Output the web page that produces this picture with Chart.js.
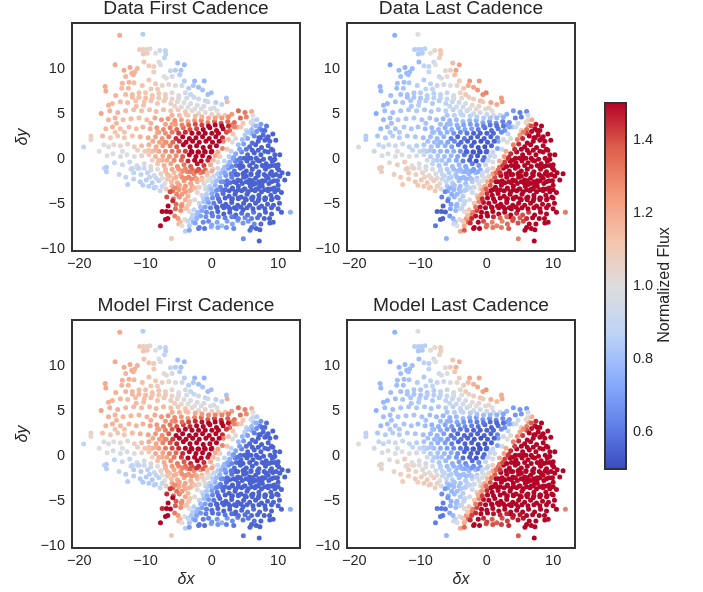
<!DOCTYPE html>
<html><head><meta charset="utf-8">
<script src="https://cdn.jsdelivr.net/npm/chart.js@4"></script>
<style>html,body{margin:0;padding:0;background:#fff;overflow:hidden;width:703px;height:592px}canvas{position:absolute}</style>
</head><body>
<script>
const dx=[
-13.9,-10.4,-10.9,-10.35,-9.85,-9.35,-7,-7.85,-8.5,-9.75,
-10.35,-6.95,-7.15,-10.25,-14.6,-5.15,-4.15,-8,-7.75,-9.5,
-8.75,-12.35,-13.25,-11.25,-11.65,-12.1,-11.85,-13,-8.75,-6.25,
-5.5,-4.65,-4.85,-6,-6.85,-2.6,-1.15,-4.15,-13.5,-12.5,
-11.75,-16.1,-16,-13.6,-12.6,-9.5,-10.5,-8.5,-7.5,-6.5,
-5.5,-4.5,-3.5,-2.8,-2,-1.4,-.6,-.1,-3.2,-4,
-14.5,-13,-12,-11,-10,-9,-8,-7,-6,-5,
2.2,2.3,-2,-1,.6,1.5,-15,-13.8,-12.7,-11.5,
-10.2,-9.2,-8.2,-7.2,-6.2,-5.2,-4.2,-3.2,-2.2,-1.2,
-.2,.8,-16.7,-15.4,-14.2,-13,-11.8,-10.6,-9.4,-8.4,
-7.3,-6.2,-5.1,-4,-3,-2,-1,0,1,2,
3,4,5,6,6.2,5.2,4.3,-15.6,-14.6,-13.4,
-12.2,-11,-9.8,-8.6,-7.6,-6.6,-5.6,-4.6,-3.6,-2.6,
-1.6,-.6,.4,1.4,2.4,3.4,3.9,-16,-15,-13.8,
-12.5,-11.4,-10.4,-9.3,-8.3,-7.3,-6.3,-5.3,-4.3,-3.3,
-2.3,-1.3,-.3,.7,1.7,2.7,3.2,4.4,5.2,4.7,
8.25,7.25,6.25,6,6.75,6,5,7.75,8.75,9.65,
-18.25,-18.25,-19.35,-16.5,-15.3,-14.2,-13.2,-12,-10.8,-9.6,
-8.5,-7.5,-6.5,-5.4,-4.4,-3.4,-2.4,-1.4,-.4,.6,
1.6,2.5,3.1,3.6,4,4.8,5.7,6.6,7.5,8.5,
-16.3,-15.6,-14.8,-13.8,-12.7,-11.7,-10.6,-9.5,-8.4,-7.4,
-6.3,-5.3,-4.3,-3.3,-2.3,-1.3,-.3,.7,1.6,2.3,
2.9,3.6,4.5,5.4,6.4,7.4,8.5,9.5,10.25,-17,
-15.8,-14.9,-13.8,-12.8,-11.7,-10.6,-9.5,-8.5,-7.4,-6.4,
-5.4,-4.4,-3.4,-2.4,-1.4,-.4,.5,1.2,.9,1.9,
2.7,3.5,4.4,5.3,6.2,7.2,8.2,9.1,9.5,-16.2,
-15.9,-15.9,-14.7,-13.5,-12.4,-11.3,-10.2,-9.2,-8.2,-7.2,
-6.2,-5.2,-4.2,-3.2,-2.2,-1.2,-.2,.2,.9,1.7,
2.5,3.4,4.3,5.2,6.1,7.1,8.1,9,9.9,10.25,
11.5,11,-14,-13,-11.8,-10.7,-9.7,-8.7,-7.7,-6.7,
-5.7,-4.7,-3.7,-2.7,-1.7,-.7,-.3,.3,1.2,2.1,
3,3.9,4.8,5.7,6.6,7.6,8.5,9.4,10,-12.7,
-11.8,-10.8,-9.9,-9,-8,-7.1,-6.1,-5.2,-4.2,-3.2,
-2.2,-1.2,-.9,-.3,.5,1.3,2.2,3.1,4,4.9,
5.8,6.7,7.6,8.5,9.4,10.5,-8.7,-7.8,-6.9,-5.9,
-5,-4,-3.1,-2.2,-1.5,-.8,0,.8,1.7,2.6,
3.5,4.4,5.3,6.2,7.1,8,8.9,9.8,-6.8,-5.8,
-4.9,-4,-3.3,-2.6,-1.9,-1.2,-.5,.3,1.2,2.1,
3,3.9,4.8,5.7,6.6,7.5,8.4,9.3,10.2,-6.6,
-7.5,-6.85,-6.25,-5.5,-4.7,-4,-3.4,-2.7,-2.1,-1.5,
-.8,0,.9,1.8,2.7,3.6,4.5,5.4,6.3,7.2,
8.1,9,10.5,11.85,-5.6,-5.1,-4.8,-4.1,-3.6,-3.1,
-7,-6.65,-7.75,-6.1,-5,-4.5,-4,-3.4,-2.8,-2,
-2.5,-1.3,-.5,-.1,.8,1.5,2.3,3.1,3.9,4.7,
5.5,6.4,7.4,8.75,9.25,7.25,5.75,4.75,7.15,3.5,
3.2,4.3,5.5,6.7,7.8,8.8,3.6,4.7,5.9,7,
1.7,2.7,3.7,4.6,5.6,6.6,7.6,8.6,.6,1.6,
2.6,3.6,4.5,5.5,6.5,7.5,8.5,9.5,3,4,
5.2,6.1,7,8,9,.8,1.8,2.7,3.7,4.7,
-9,-8,-7,-6,-5,-4,-3,-2,-1,0,
-7,-6,-5,-4,-3,-2,-1,0,-4.5,-3.5,
-2.5,-1.5,-6,-5,-4,-3,-2,-1,-4.5,-3.5,
-8,-7,-6,-5,-4,-3,-2,-1,0,1,
2.2,3,-12,-11,-10,-9,-8,-7,-6,-5,
6.2,6.8,7.4,5.9,6.7,7.6,5.5,6.4,7.1,8,
8.5,9.2,4.6,5.4,6.1,7,8,9,4.2,5.2,
6.1,7,8,9.2,2.6,3.3,3.9,4.9,5.9,6.9,
7.9,9,10,1.9,2.4,3,3.7,4.7,5.7,6.7,
7.6,8.6,9.5,.9,1.4,2,2.9,3.9,4.9,5.9,
6.9,7.9,8.8,9.7,10.6,.1,.7,1.4,2.3,3.3,
4.3,5.2,6.1,7.1,8,9,9.9,-.6,-.1,.9,
2,3.1,4,5,6,7,8,9,10,-1.3,
-.7,.1,1,2,3.1,4,5,6,7.1,8.1,
9.1,10,-1.7,-1,-.2,.7,1.6,2.5,3.4,4.4,
5.3,6.2,7.1,8,9,10,-2.4,-1.7,-.9,.1,
1,2,3,4,5,6,6.9,7.9,8.7,-2.9,
-1.9,-1.1,0,.9,2.2,3.3,6,6.7,-3.4,-2.3,
-5.4,-4.6,-3.8,-5.9,-5.3,-4.5,-3.6,-6.3,-5.6,-4.9,
-4.2,-3.4,-2.6,-1.9,-3.9,-3.1,-2.3,-1.5,-.7,-5.7,
-6.4,-5.4,-4.4,-3.3,-2.3,-1.3,-.7,-6.8,-5.7,-4.6,
-3.6,-2.6,-1.6,-.6,.2,.9,-3.1,-2.1,-1.1,-.1,
1.7,-4.9,-3.9,-2.9,-1.9,-.9,.1,1.1,-5.5,-4.5,
-3.5,-2.5,-1.5,-.5,.5,1.5,2.5,3.4,-7,-6,
-9.2,-8.2,-7.1,-8.9,-7.9,-6.9,-5.9,-9.5,-8.5,-7.5,
-3.6,-2.5,-1.5,-.5,.5,1.5,2.5,-6,-4.9,-3.9,
-5.6,-4.6,-3.6,-2.6,-1.6,-.6,.3,-5,-3.8,-2.7,
-11.2,-10.1,-9,-8,-7,-12.2,-11.2,-10.2,-9.4,-8.4,
-10.4,-9.5,-8.5,-7.5,-9.2,-8.2,-7.5,-6.7,-11,-12,
-15.6,-14.4,-13.2,-11.4,-10.3,-9.2,-8.2,-7.2,-14.6,-13.5,
7.3,8.3,9.3,10.1,4.2,5.2,6.2,7.2,8.2,9.2];
const dy=[
13.8,13.9,12.2,12.2,12.2,12.3,12.1,12.1,11.8,11.8,
11.7,11.7,11.3,10.8,10.5,10.7,10.5,10.8,10.5,10.4,
10.3,10.2,9.9,10.1,9.7,9.55,9.4,9.2,9.7,9.85,
9.9,9.9,9.4,9.2,9,8.7,8.7,8.7,8.45,8.55,
8.5,8.1,7.6,7.9,7.9,8.8,8.2,8.4,8.2,8.3,
8.2,8.2,7.9,8.2,8,7.7,7.2,7.4,7.2,7.4,
7.1,7.2,7.2,7.4,7.4,7.1,7.3,7.2,7.4,7.1,
6.8,6.4,6.7,6.5,6.3,6.1,6.2,6.4,6.3,6.5,
6.4,6.5,6.2,6.5,6.2,6.4,6.3,6.2,6,5.9,
5.6,5.4,5.1,5.4,5.2,5.4,5.5,5.4,5.5,5.3,
5.5,5.4,5.5,5.3,5.4,5.1,5.2,5,4.9,4.9,
5,5.4,5.2,5.3,4.9,4.7,4.6,4.4,4.6,4.4,
4.5,4.6,4.4,4.6,4.4,4.5,4.3,4.4,4.2,4.3,
4.3,4.1,4.2,4,4.2,4.1,3.6,3.4,3.6,3.4,
3.6,3.4,3.6,3.4,3.5,3.3,3.5,3.3,3.5,3.3,
3.4,3.3,3.5,3.2,3.4,3.2,2.8,3.6,3.2,4,
3.7,3.4,3.8,3.3,3.1,2.9,2.7,2.7,2,2.1,
2.6,2.2,1.37,2.6,2.4,2.6,2.4,2.6,2.5,2.4,
2.5,2.3,2.5,2.3,2.5,2.3,2.4,2.5,2.3,2.5,
2.4,2.2,1.9,2.3,1.6,1.7,1.4,1.6,1.3,1.5,
1.6,1.4,1.6,1.5,1.7,1.4,1.5,1.6,1.4,1.5,
1.5,1.4,1.6,1.4,1.5,1.3,1.4,1.5,1.2,1.1,
.9,.6,.8,.5,.7,.5,.8,.5,.5,.9,
.4,.6,.3,.5,.3,.4,.5,.3,.4,.3,
.4,.3,.5,.3,.4,.2,.4,.3,-.3,-.2,
-.3,-.2,-.4,-.2,-.4,-.2,-.5,-.2,0,-1,
-.9,-1.4,-.4,-.6,-.3,-.7,-.5,-.8,-.5,-.7,
-.5,-.8,-.6,-.8,-.5,-.7,-.6,-1.1,-1,-1.2,
-1,-1.3,-1,-1.3,-1.1,-1.4,-1.1,-1.4,-1,-1.9,
-1.6,-2.3,-1.7,-2,-1.5,-1.7,-1.5,-1.8,-1.6,-1.7,
-1.5,-1.7,-1.4,-1.6,-1.5,-1.8,-2.1,-1.9,-2,-1.8,
-2,-2.3,-2,-2.3,-2.1,-2.4,-2.1,-2.4,-2.9,-2.8,
-2.2,-2.5,-2.3,-2.6,-2.4,-2.7,-2.5,-2.6,-2.4,-2.7,
-2.5,-2.7,-3.1,-3,-2.9,-3.1,-2.9,-3.2,-3,-3.3,
-3,-3.3,-3,-3.3,-3.2,-3.7,-3.2,-3.5,-3.3,-3.5,
-3.4,-3.6,-3.4,-3.7,-4,-3.9,-3.8,-4,-3.8,-4.1,
-3.9,-4.2,-3.9,-4.2,-4,-4.3,-4,-4.2,-4.2,-4.4,
-4.2,-4.5,-4.7,-4.5,-4.9,-4.7,-4.8,-4.9,-4.7,-5,
-4.8,-5.1,-4.9,-5.1,-4.9,-5.2,-5,-5.1,-4.9,-5.2,
-5.8,-5.8,-5.85,-5.5,-5.7,-5.5,-5.8,-5.6,-5.9,-5.7,
-5.9,-6,-5.8,-6.1,-5.9,-6.2,-6,-6.2,-5.9,-6.2,
-5.9,-6.1,-5.9,-5.9,-6.3,-6.6,-7,-6.7,-6.9,-6.6,
-6.7,-6.6,-7.4,-8.8,-7.2,-7.4,-8,-7.4,-7,-7.7,
-7.1,-7,-6.9,-7.5,-7,-7.4,-6.9,-7.2,-6.8,-7.1,
-6.9,-7.2,-7.2,-7.1,-7,-7.85,-7.9,-8.85,-9.1,-6.4,
.1,.1,.1,.1,0,.1,-1.7,-1.6,-1.7,-1.8,
-2.5,-2.6,-2.6,-2.7,-2.6,-2.7,-2.6,-2.7,-3.5,-3.5,
-3.5,-3.6,-3.5,-3.6,-3.5,-3.6,-3.5,-3.6,-4.5,-4.4,
-4.5,-4.5,-4.6,-4.5,-4.5,-5.4,-5.4,-5.5,-5.5,-5.6,
.9,.9,.9,.9,.9,.9,.8,.8,.8,.9,
-1.1,-1.1,-1.1,-1.1,-1.1,-1.1,-1.2,-1.3,-2,-2,
-2.1,-2.1,-3,-3,-3,-3,-3.1,-3.3,-5,-5,
3,2.9,3,2.9,3,2.9,2.9,2.9,2.9,2.9,
3,3.8,6.9,6.9,6.8,6.8,6.8,6.8,6.7,6.7,
4.3,4.4,3.9,4.1,3.7,3.2,3,2.6,2.4,3.2,
2.5,2.8,2.2,2.3,1.8,2,2.1,1.1,1.1,1.1,
1,1,.9,1,.3,.2,-.1,.1,.1,-.1,
-.8,-.7,-.6,-.9,-.7,-.8,-.7,-.8,-.7,-.8,
-.7,-.8,-.7,-1.6,-1.5,-1.5,-1.6,-1.7,-1.5,-1.6,
-1.6,-1.7,-1.6,-1.7,-1.5,-2.5,-2.4,-2.5,-2.4,-2.5,
-2.4,-2.5,-2.4,-2.5,-2.4,-2.5,-2.4,-3.4,-3.3,-3.4,
-3.4,-3.3,-3.4,-3.3,-3.4,-3.3,-3.4,-3.3,-3.4,-4.3,
-4.4,-4.3,-4.4,-4.3,-4.4,-4.3,-4.4,-4.3,-4.4,-4.3,
-4.4,-4.3,-5.3,-5.3,-5.4,-5.3,-5.2,-5.3,-5.4,-5.3,
-5.4,-5.5,-5.4,-5.5,-5.4,-5.5,-6.2,-6.3,-6.4,-6.3,
-6.4,-6.5,-6.4,-6.6,-6.5,-6.6,-6.5,-6.6,-6.6,-6.2,
-7.6,-7.7,-7.3,-7.6,-7.6,-7.7,-7.6,-7.7,-7.9,-6.6,
-5,-5.2,-5.4,-4.6,-3.9,-3.9,-4.1,-3.6,-3.2,-2.9,
-3.3,-3.5,-3.2,-3.1,-2.1,-2.2,-2.2,-2.3,-2.4,-2.1,
-1.9,-2,-1.3,-1.4,-1.3,-1.4,-1.5,-.1,-.1,-.1,
-.2,-.1,-.2,-.1,-.1,.8,.9,.8,.9,.8,
2,2,1.9,2,1.9,2,1.9,2,3.9,3.8,
3.8,3.9,3.8,3.7,3.8,3.7,3.7,3.6,3.9,3.9,
4,3,1.9,2,1.9,1.9,1.9,1,1,-.1,
4.9,4.8,4.7,4.6,4.6,4.6,4.7,4.9,4.9,5,
5.9,5.8,5.8,5.6,5.6,6.4,5.7,6.9,6.8,6.9,
1,.9,-.1,-.1,-1.3,-1.1,-1,-1,-2,-2.1,
-2.9,-3,-3.1,-3,-1.2,-1.1,-2.1,-2.2,-1,-1,
6,4,3,5.9,6,7.8,7.8,9.2,3,.9,
2.4,2.3,-.1,-1.2,-.7,-1.9,-2.8,-3,-1.9,-1.8];
const fluxDataFirst=[
1.2,.85,1.1,1.08,1.05,1.03,.88,.93,1,1.08,
1.1,.87,.88,1.12,1.2,.8,.78,1,.97,1.1,
1.08,1.2,1.2,1.17,1.17,1.17,1.18,1.17,1.08,.9,
.85,.82,.85,.95,1,.78,.77,.85,1.17,1.17,
1.15,1.2,1.2,1.15,1.15,1.12,1.13,1.1,1.05,1.03,
.97,.93,.85,.82,.8,.82,.8,.8,.88,.95,
1.17,1.15,1.15,1.14,1.12,1.12,1.1,1.07,1.02,1,
.83,1.15,.93,.9,.85,.88,1.15,1.15,1.15,1.13,
1.12,1.12,1.12,1.1,1.07,1.03,1,.97,.98,.97,
.98,1,1.22,1.17,1.17,1.15,1.14,1.14,1.14,1.15,
1.14,1.12,1.1,1.08,1.03,1.03,1.03,1.05,1.1,1.12,
1.25,1.35,1.32,1.2,1,1.3,1.35,1.17,1.17,1.15,
1.15,1.14,1.15,1.2,1.25,1.25,1.27,1.22,1.22,1.25,
1.3,1.3,1.35,1.4,1.35,1.35,1.2,1.17,1.17,1.14,
1.14,1.14,1.17,1.2,1.25,1.28,1.3,1.35,1.35,1.4,
1.42,1.5,1.5,1.5,1.5,1.35,1.12,1.1,.9,1.12,
.6,.65,.85,.8,.67,.75,.85,.57,.55,.55,
1.07,1.05,.88,1.15,1.1,1.12,1.12,1.13,1.17,1.2,
1.22,1.25,1.32,1.45,1.5,1.5,1.5,1.5,1.5,1.5,
1.45,1.15,1,.98,.8,.7,.58,.55,.55,.55,
1,1,1.02,1.03,1.05,1.08,1.15,1.18,1.2,1.25,
1.3,1.38,1.5,1.5,1.5,1.5,1.5,1.5,1.3,1.12,
.88,.73,.65,.57,.55,.55,.55,.55,.55,1,
1,.98,.97,1,1,1.05,1.1,1.17,1.2,1.25,
1.27,1.38,1.5,1.5,1.5,1.5,1.2,1.08,1.02,.88,
.76,.65,.58,.55,.55,.55,.55,.55,.55,.9,
.85,.85,.9,.93,.92,.97,.97,1.05,1.12,1.18,
1.22,1.27,1.32,1.38,1.48,1.42,1.2,1.06,.92,.8,
.68,.6,.56,.55,.55,.55,.55,.55,.55,.55,
.55,.55,.9,.88,.87,.87,.88,.95,1.05,1.15,
1.15,1.22,1.27,1.3,1.3,1.12,1,.92,.78,.68,
.62,.57,.55,.55,.55,.55,.55,.55,.55,.86,
.87,.85,.85,.85,.87,.98,1.15,1.2,1.25,1.22,
1.18,1.05,.95,.87,.77,.63,.58,.55,.55,.55,
.55,.55,.55,.55,.55,.55,.85,.9,1.1,1.35,
1.25,1.25,1.2,1.05,.95,.85,.73,.62,.57,.55,
.55,.55,.55,.55,.55,.55,.55,.55,1.4,1.32,
1.27,1.18,1.1,1.02,.9,.82,.7,.62,.57,.56,
.55,.55,.55,.55,.55,.55,.55,.55,.55,1.5,
1.5,1.5,1.5,1.35,1.27,1.12,1,.88,.8,.72,
.66,.6,.56,.55,.55,.55,.58,.6,.6,.58,
.55,.55,.55,.75,1.3,1.25,1.18,1.02,.9,.85,
1.5,1.5,1.5,1.12,1.15,1,.85,.85,.78,.6,
.72,.65,.65,.75,.72,.8,.72,.72,.72,.68,
.68,.65,.57,.55,.55,.55,.58,.65,.55,.58,
.72,.6,.56,.55,.55,.55,.56,.55,.55,.55,
.65,.58,.55,.55,.55,.55,.55,.55,.7,.6,
.55,.55,.55,.55,.55,.55,.55,.55,.55,.55,
.55,.55,.55,.55,.55,.56,.55,.55,.55,.55,
1.15,1.22,1.27,1.32,1.35,1.42,1.5,1.5,1.5,1.48,
1.15,1.2,1.25,1.3,1.35,1.4,1.35,1.2,1.27,1.3,
1.28,1.2,1.2,1.27,1.25,1.2,1.08,.97,1.25,1.12,
1.22,1.27,1.32,1.42,1.45,1.5,1.5,1.5,1.5,1.5,
1.4,1.32,1.15,1.14,1.14,1.12,1.1,1.1,1.05,1,
.93,.86,.7,.95,.77,.6,.83,.64,.57,.58,
.55,.55,.8,.72,.58,.55,.55,.55,.72,.6,
.55,.55,.55,.55,.85,.72,.62,.56,.55,.55,
.55,.55,.55,.8,.75,.65,.6,.55,.55,.55,
.55,.55,.55,.86,.8,.72,.62,.57,.55,.55,
.55,.55,.55,.55,.55,.88,.8,.68,.6,.56,
.55,.55,.55,.55,.55,.55,.55,.87,.8,.66,
.58,.55,.55,.55,.55,.55,.55,.55,.55,.86,
.76,.66,.58,.55,.55,.55,.55,.55,.55,.55,
.55,.55,.8,.72,.62,.56,.55,.55,.55,.55,
.55,.55,.55,.55,.55,.55,.8,.72,.66,.62,
.62,.62,.62,.63,.65,.62,.58,.55,.55,.88,
.62,.6,.72,.72,.68,.65,.58,.55,.72,.76,
1.35,1.27,1.12,1.45,1.3,1.25,1.18,1.4,1.28,1.22,
1.23,1.2,1.15,1.05,1.28,1.28,1.22,1.1,1,1.15,
1.15,1.18,1.27,1.32,1.38,1.35,1.15,1.2,1.28,1.35,
1.45,1.5,1.5,1.45,1.15,1.2,1.5,1.5,1.5,1.5,
1.3,1.45,1.5,1.5,1.5,1.5,1.5,1.5,1.25,1.3,
1.35,1.4,1.42,1.5,1.5,1.5,1.45,1.3,1.22,1.22,
1.18,1.22,1.25,1.2,1.22,1.27,1.35,1.12,1.17,1.18,
1.12,1.15,1.18,1.2,1.22,1.25,1.28,1.18,1.15,1.12,
1.05,1.02,1,1,.98,.93,.97,.98,.95,.92,
1.07,1.1,1.05,1.15,1.15,.92,.92,.93,.88,.9,
.86,.86,.87,.92,.93,1,1,1.12,.9,.9,
1.17,1.16,1.12,1.14,1.13,1.1,1.08,1,1.12,1,
.55,.55,.55,.55,.55,.55,.55,.55,.55,.55];
const fluxDataLast=[
.75,1,.85,.86,.85,.87,1.12,1.05,1,.85,
.84,1.1,1.08,.78,.72,1.15,1.22,.95,1,.88,
.88,.76,.78,.78,.78,.78,.8,.8,.9,1.03,
1.08,1.22,1.15,1.02,.98,1.25,1.25,1.1,.8,.8,
.83,.77,.77,.8,.82,.85,.85,.87,.9,.93,
1,1.05,1.12,1.2,1.22,1.25,1.28,1.3,1.12,1.05,
.8,.8,.82,.83,.85,.85,.86,.88,.92,.97,
1.25,1.25,1.1,1.15,1.22,1.2,.78,.8,.82,.83,
.85,.85,.84,.85,.87,.9,.93,.98,1.03,1.05,
1.03,1,.73,.8,.8,.82,.83,.84,.83,.83,
.84,.86,.87,.9,.93,.95,.95,.92,.93,.92,
.75,.68,.62,.65,.9,.62,.62,.78,.8,.83,
.83,.84,.82,.82,.8,.78,.78,.8,.8,.78,
.75,.73,.68,.65,.62,.65,.82,.78,.8,.82,
.83,.83,.82,.8,.78,.78,.75,.75,.72,.72,
.7,.62,.58,.58,.6,.68,.88,.93,1.12,.93,
1.5,1.5,1.25,1.35,1.5,1.42,1.25,1.5,1.5,1.5,
.85,.85,1.02,.82,.83,.85,.85,.83,.83,.8,
.8,.78,.76,.62,.56,.6,.55,.55,.55,.55,
.63,.93,1,1.02,1.3,1.45,1.5,1.5,1.5,1.5,
.9,.9,.92,.93,.92,.88,.85,.83,.82,.78,
.76,.7,.6,.58,.55,.52,.52,.55,.72,.93,
1.2,1.45,1.5,1.5,1.5,1.5,1.5,1.5,1.5,.93,
.98,.97,1,1,1,.97,.92,.85,.83,.8,
.78,.72,.6,.56,.53,.58,.9,.95,.98,1.2,
1.42,1.5,1.5,1.5,1.5,1.5,1.5,1.5,1.5,1.1,
1.08,1.08,1.03,1.08,1.1,1,.98,.93,.88,.83,
.82,.8,.78,.72,.62,.68,.9,.96,1.08,1.35,
1.5,1.5,1.5,1.5,1.5,1.5,1.5,1.5,1.5,1.5,
1.5,1.5,1.08,1.1,1.1,1.08,1.05,1.03,.97,.9,
.85,.83,.8,.77,.78,.92,1,1.1,1.4,1.5,
1.5,1.5,1.5,1.5,1.5,1.5,1.5,1.5,1.5,1.1,
1.1,1.12,1.12,1.12,1.1,1.03,.9,.85,.8,.8,
.85,.97,1.05,1.2,1.4,1.5,1.5,1.5,1.5,1.5,
1.5,1.5,1.5,1.5,1.5,1.5,1.12,1.1,.95,.72,
.78,.82,.85,.95,1.08,1.25,1.45,1.5,1.5,1.5,
1.5,1.5,1.5,1.5,1.5,1.5,1.5,1.5,.62,.72,
.78,.85,.9,.97,1.12,1.3,1.48,1.5,1.5,1.5,
1.5,1.5,1.5,1.5,1.5,1.5,1.5,1.5,1.5,.55,
.55,.55,.55,.72,.78,.88,1.02,1.12,1.3,1.42,
1.5,1.5,1.5,1.5,1.5,1.5,1.45,1.4,1.42,1.5,
1.5,1.5,1.5,1.32,.68,.75,.82,.98,1.1,1.25,
.55,.55,.6,.75,.92,1,1.22,1.2,1.35,1.5,
1.45,1.5,1.4,1.35,1.3,1.3,1.3,1.35,1.4,1.4,
1.4,1.5,1.5,1.5,1.5,1.5,1.5,1.3,1.5,1.5,
1.45,1.5,1.5,1.5,1.5,1.5,1.5,1.5,1.5,1.5,
1.5,1.5,1.5,1.5,1.5,1.5,1.5,1.5,1.5,1.5,
1.5,1.5,1.5,1.5,1.5,1.5,1.5,1.5,1.5,1.5,
1.5,1.5,1.5,1.5,1.5,1.5,1.5,1.5,1.5,1.5,
.85,.8,.78,.75,.75,.68,.6,.55,.53,.58,
.87,.84,.8,.78,.75,.7,.72,.88,.8,.78,
.78,.82,.83,.78,.8,.85,.93,1.02,.78,.88,
.8,.77,.75,.68,.65,.6,.55,.55,.55,.57,
.65,.7,.8,.82,.82,.85,.86,.88,.9,.95,
1.08,1.2,1.48,1.05,1.4,1.5,1.3,1.5,1.5,1.5,
1.5,1.5,1.3,1.45,1.5,1.5,1.5,1.5,1.45,1.5,
1.5,1.5,1.5,1.5,1.25,1.45,1.5,1.5,1.5,1.5,
1.5,1.5,1.5,1.35,1.42,1.5,1.5,1.5,1.5,1.5,
1.5,1.5,1.5,1.22,1.35,1.45,1.5,1.5,1.5,1.5,
1.5,1.5,1.5,1.5,1.5,1.2,1.35,1.5,1.5,1.5,
1.5,1.5,1.5,1.5,1.5,1.5,1.5,1.22,1.38,1.5,
1.5,1.5,1.5,1.5,1.5,1.5,1.5,1.5,1.5,1.22,
1.45,1.5,1.5,1.5,1.5,1.5,1.5,1.5,1.5,1.5,
1.5,1.5,1.32,1.48,1.5,1.5,1.5,1.5,1.5,1.5,
1.5,1.5,1.5,1.5,1.5,1.5,1.32,1.48,1.5,1.5,
1.45,1.35,1.35,1.4,1.38,1.45,1.5,1.5,1.5,1.15,
1.5,1.5,1.35,1.32,1.32,1.38,1.5,1.5,1.38,1.45,
.72,.78,.9,.62,.74,.78,.85,.65,.76,.82,
.8,.84,.87,.95,.78,.78,.82,.92,1,.85,
.88,.85,.8,.76,.72,.74,.92,.83,.78,.73,
.62,.55,.52,.6,.93,.88,.55,.53,.52,.55,
.73,.65,.58,.55,.53,.52,.54,.55,.78,.75,
.72,.7,.68,.62,.6,.58,.6,.72,.8,.78,
.82,.8,.78,.81,.8,.77,.72,.88,.84,.84,
.88,.87,.85,.84,.82,.8,.76,.83,.86,.88,
.9,.93,.95,.98,1.02,1.1,1.05,.97,1.02,1.08,
.9,.9,.97,.87,.88,1.05,1.03,1,1.05,1.05,
1.1,1.12,1.12,1.08,1,.98,1.05,.92,1.05,1.08,
.78,.8,.84,.83,.85,.87,.88,.95,.84,.97,
1.5,1.5,1.5,1.5,1.5,1.5,1.5,1.5,1.5,1.5];
const fluxModelFirst=[
1.2,.85,1.1,1.08,1.05,1.05,.87,.92,1,1.1,
1.12,.86,.87,1.13,1.2,.8,.78,1,.98,1.12,
1.1,1.2,1.2,1.18,1.18,1.18,1.18,1.17,1.1,.9,
.85,.82,.85,.95,1.02,.77,.76,.85,1.18,1.18,
1.17,1.2,1.2,1.17,1.17,1.13,1.14,1.1,1.07,1.05,
.98,.94,.86,.82,.8,.82,.8,.8,.9,.95,
1.18,1.17,1.16,1.15,1.14,1.13,1.12,1.08,1.03,1,
.82,1.2,.95,.9,.86,.88,1.17,1.16,1.15,1.14,
1.14,1.14,1.13,1.12,1.08,1.05,1.02,.98,.97,.97,
.98,1,1.22,1.18,1.18,1.16,1.15,1.15,1.15,1.16,
1.16,1.14,1.12,1.1,1.05,1.04,1.05,1.07,1.12,1.15,
1.25,1.33,1.3,1.18,1,1.28,1.33,1.18,1.18,1.16,
1.16,1.16,1.17,1.2,1.25,1.27,1.28,1.25,1.25,1.3,
1.35,1.38,1.42,1.45,1.38,1.33,1.18,1.17,1.18,1.16,
1.16,1.16,1.18,1.22,1.25,1.3,1.33,1.4,1.42,1.45,
1.5,1.5,1.5,1.5,1.5,1.35,1.12,1.1,.9,1.12,
.58,.63,.85,.78,.65,.72,.85,.56,.55,.55,
1.05,1.03,.88,1.13,1.1,1.12,1.12,1.15,1.18,1.22,
1.25,1.28,1.38,1.5,1.5,1.5,1.5,1.5,1.5,1.5,
1.45,1.15,1,.98,.78,.68,.57,.55,.55,.55,
1,1,1,1.02,1.03,1.08,1.15,1.2,1.22,1.3,
1.38,1.45,1.5,1.5,1.5,1.5,1.5,1.5,1.3,1.12,
.87,.72,.63,.56,.55,.55,.55,.55,.55,1,
1,.97,.97,.98,1,1.05,1.12,1.2,1.22,1.3,
1.35,1.45,1.5,1.5,1.5,1.5,1.2,1.08,1.02,.87,
.75,.63,.57,.55,.55,.55,.55,.55,.55,.87,
.85,.85,.88,.92,.9,.97,.97,1.05,1.13,1.2,
1.28,1.32,1.38,1.45,1.5,1.45,1.2,1.06,.92,.78,
.67,.58,.55,.55,.55,.55,.55,.55,.55,.55,
.55,.55,.88,.86,.85,.85,.86,.93,1.05,1.17,
1.2,1.25,1.27,1.27,1.25,1.1,1,.9,.76,.66,
.6,.56,.55,.55,.55,.55,.55,.55,.55,.85,
.85,.84,.84,.84,.86,1,1.15,1.2,1.22,1.18,
1.15,1.03,.95,.86,.76,.62,.57,.55,.55,.55,
.55,.55,.55,.55,.55,.55,.85,.9,1.12,1.38,
1.22,1.2,1.15,1.03,.93,.83,.7,.6,.56,.55,
.55,.55,.55,.55,.55,.55,.55,.55,1.45,1.35,
1.3,1.2,1.1,1.02,.88,.8,.68,.6,.56,.55,
.55,.55,.55,.55,.55,.55,.55,.55,.55,1.5,
1.45,1.5,1.5,1.38,1.27,1.1,1,.86,.78,.7,
.62,.58,.55,.55,.55,.55,.56,.58,.58,.56,
.55,.55,.55,.75,1.32,1.25,1.18,1,.88,.83,
1.5,1.5,1.5,1.12,1.15,1,.85,.82,.76,.6,
.7,.62,.62,.72,.68,.75,.68,.66,.64,.6,
.6,.58,.56,.55,.55,.55,.56,.6,.55,.56,
.7,.58,.55,.55,.55,.55,.55,.55,.55,.55,
.63,.56,.55,.55,.55,.55,.55,.55,.68,.58,
.55,.55,.55,.55,.55,.55,.55,.55,.55,.55,
.55,.55,.55,.55,.55,.55,.55,.55,.55,.55,
1.17,1.25,1.32,1.4,1.45,1.5,1.5,1.5,1.5,1.48,
1.2,1.25,1.3,1.35,1.4,1.45,1.38,1.2,1.27,1.27,
1.25,1.18,1.22,1.27,1.22,1.17,1.06,.96,1.27,1.12,
1.25,1.3,1.38,1.48,1.5,1.5,1.5,1.5,1.5,1.5,
1.42,1.33,1.16,1.16,1.15,1.13,1.12,1.1,1.05,1,
.92,.85,.68,.95,.75,.58,.82,.62,.56,.57,
.55,.55,.78,.7,.57,.55,.55,.55,.7,.58,
.55,.55,.55,.55,.83,.7,.6,.55,.55,.55,
.55,.55,.55,.78,.72,.63,.58,.55,.55,.55,
.55,.55,.55,.85,.78,.7,.6,.56,.55,.55,
.55,.55,.55,.55,.55,.86,.78,.66,.58,.55,
.55,.55,.55,.55,.55,.55,.55,.85,.78,.64,
.57,.55,.55,.55,.55,.55,.55,.55,.55,.85,
.74,.64,.57,.55,.55,.55,.55,.55,.55,.55,
.55,.55,.78,.7,.6,.55,.55,.55,.55,.55,
.55,.55,.55,.55,.55,.55,.78,.68,.62,.58,
.6,.6,.58,.58,.58,.57,.56,.55,.55,.85,
.6,.58,.68,.68,.62,.6,.56,.55,.7,.72,
1.38,1.27,1.12,1.5,1.33,1.25,1.16,1.42,1.28,1.22,
1.2,1.18,1.13,1.04,1.26,1.25,1.2,1.1,1,1.18,
1.15,1.18,1.3,1.38,1.45,1.38,1.15,1.22,1.32,1.42,
1.5,1.5,1.5,1.48,1.15,1.22,1.5,1.5,1.5,1.5,
1.3,1.5,1.5,1.5,1.5,1.5,1.5,1.5,1.3,1.35,
1.42,1.45,1.48,1.5,1.5,1.5,1.48,1.3,1.25,1.27,
1.18,1.23,1.28,1.2,1.25,1.3,1.42,1.13,1.18,1.2,
1.15,1.2,1.25,1.28,1.3,1.3,1.32,1.2,1.17,1.15,
1.07,1.03,1,1,.98,.93,.97,.98,.95,.92,
1.07,1.12,1.05,1.17,1.17,.9,.9,.92,.86,.88,
.84,.84,.85,.9,.92,1,1,1.13,.88,.88,
1.18,1.17,1.13,1.15,1.14,1.12,1.1,1.02,1.13,1,
.55,.55,.55,.55,.55,.55,.55,.55,.55,.55];
const fluxModelLast=[
.76,1,.86,.86,.85,.86,1.1,1.03,1,.84,
.83,1.08,1.05,.8,.75,1.12,1.18,.95,1,.87,
.86,.78,.78,.8,.8,.8,.8,.8,.88,1.02,
1.07,1.18,1.12,1,.97,1.2,1.2,1.08,.8,.8,
.82,.78,.78,.8,.8,.84,.84,.87,.9,.93,
.98,1.03,1.08,1.15,1.18,1.2,1.22,1.25,1.1,1.03,
.8,.8,.82,.82,.83,.84,.85,.88,.92,.96,
1.2,1.2,1.08,1.12,1.18,1.15,.78,.8,.82,.83,
.84,.84,.84,.85,.87,.9,.93,.97,1.02,1.04,
1.03,1,.75,.8,.8,.82,.82,.83,.83,.82,
.83,.85,.86,.88,.92,.95,.95,.92,.92,.9,
.78,.7,.68,.68,.92,.68,.68,.8,.8,.82,
.82,.82,.82,.8,.78,.77,.76,.78,.78,.74,
.7,.68,.65,.63,.65,.68,.85,.78,.8,.82,
.82,.82,.8,.79,.76,.75,.72,.68,.66,.65,
.62,.58,.56,.55,.58,.68,.88,.93,1.1,.93,
1.5,1.48,1.22,1.32,1.48,1.4,1.22,1.5,1.5,1.5,
.87,.87,1,.83,.84,.85,.85,.83,.82,.8,
.78,.76,.7,.6,.56,.56,.55,.55,.55,.55,
.63,.93,1,1.02,1.3,1.45,1.5,1.5,1.5,1.5,
.9,.9,.92,.93,.92,.88,.85,.82,.8,.76,
.7,.62,.56,.55,.55,.52,.52,.55,.72,.93,
1.2,1.45,1.5,1.5,1.5,1.5,1.5,1.5,1.5,.93,
.97,.97,1,1,1,.97,.9,.84,.82,.78,
.74,.66,.56,.55,.53,.58,.9,.95,.98,1.2,
1.42,1.5,1.5,1.5,1.5,1.5,1.5,1.5,1.5,1.05,
1.05,1.05,1.02,1.05,1.08,1,.98,.93,.87,.83,
.78,.75,.7,.64,.58,.64,.9,.96,1.08,1.35,
1.5,1.5,1.5,1.5,1.5,1.5,1.5,1.5,1.5,1.5,
1.5,1.5,1.05,1.07,1.08,1.07,1.03,1,.96,.88,
.83,.8,.78,.78,.8,.93,1,1.1,1.38,1.5,
1.5,1.5,1.5,1.5,1.5,1.5,1.5,1.5,1.5,1.07,
1.08,1.1,1.1,1.1,1.08,1,.9,.85,.82,.84,
.87,.97,1.05,1.2,1.4,1.5,1.5,1.5,1.5,1.5,
1.5,1.5,1.5,1.5,1.5,1.5,1.1,1.08,.95,.75,
.8,.84,.87,.95,1.08,1.25,1.45,1.5,1.5,1.5,
1.5,1.5,1.5,1.5,1.5,1.5,1.5,1.5,.65,.75,
.78,.84,.9,.97,1.12,1.3,1.48,1.5,1.5,1.5,
1.5,1.5,1.5,1.5,1.5,1.5,1.5,1.5,1.5,.62,
.6,.6,.6,.75,.8,.88,1.02,1.12,1.3,1.42,
1.5,1.5,1.5,1.5,1.5,1.5,1.5,1.5,1.5,1.5,
1.5,1.5,1.5,1.3,.72,.78,.85,.98,1.1,1.25,
.6,.6,.62,.77,.92,1,1.2,1.2,1.35,1.5,
1.45,1.5,1.45,1.4,1.38,1.38,1.4,1.42,1.45,1.48,
1.48,1.5,1.5,1.5,1.5,1.5,1.5,1.38,1.5,1.5,
1.45,1.5,1.5,1.5,1.5,1.5,1.5,1.5,1.5,1.5,
1.5,1.5,1.5,1.5,1.5,1.5,1.5,1.5,1.5,1.5,
1.5,1.5,1.5,1.5,1.5,1.5,1.5,1.5,1.5,1.5,
1.5,1.5,1.5,1.5,1.5,1.5,1.5,1.5,1.5,1.5,
.84,.8,.75,.7,.66,.6,.58,.55,.53,.58,
.84,.8,.77,.74,.7,.66,.7,.88,.8,.8,
.8,.83,.82,.8,.82,.86,.93,1.02,.78,.88,
.78,.75,.7,.62,.6,.58,.55,.55,.55,.56,
.65,.7,.82,.82,.82,.85,.85,.87,.9,.95,
1.05,1.18,1.45,1.03,1.38,1.5,1.28,1.5,1.5,1.5,
1.5,1.5,1.28,1.42,1.5,1.5,1.5,1.5,1.42,1.5,
1.5,1.5,1.5,1.5,1.23,1.43,1.5,1.5,1.5,1.5,
1.5,1.5,1.5,1.33,1.4,1.5,1.5,1.5,1.5,1.5,
1.5,1.5,1.5,1.2,1.33,1.43,1.5,1.5,1.5,1.5,
1.5,1.5,1.5,1.5,1.5,1.18,1.33,1.5,1.5,1.5,
1.5,1.5,1.5,1.5,1.5,1.5,1.5,1.2,1.36,1.5,
1.5,1.5,1.5,1.5,1.5,1.5,1.5,1.5,1.5,1.2,
1.42,1.5,1.5,1.5,1.5,1.5,1.5,1.5,1.5,1.5,
1.5,1.5,1.3,1.45,1.5,1.5,1.5,1.5,1.5,1.5,
1.5,1.5,1.5,1.5,1.5,1.5,1.3,1.45,1.5,1.5,
1.48,1.45,1.45,1.48,1.48,1.5,1.5,1.5,1.5,1.12,
1.5,1.5,1.42,1.4,1.42,1.45,1.5,1.5,1.36,1.42,
.76,.8,.9,.68,.77,.8,.85,.7,.78,.82,
.82,.85,.88,.95,.8,.8,.83,.92,1,.85,
.88,.85,.78,.74,.68,.7,.92,.82,.75,.68,
.58,.55,.52,.58,.93,.88,.55,.53,.52,.55,
.73,.62,.58,.55,.53,.52,.54,.55,.75,.72,
.68,.65,.62,.6,.58,.56,.58,.72,.78,.76,
.82,.8,.77,.81,.78,.75,.68,.88,.84,.83,
.87,.85,.82,.8,.78,.76,.72,.82,.85,.87,
.9,.92,.95,.98,1,1.08,1.03,.97,1,1.05,
.9,.9,.97,.86,.87,1.03,1.02,1,1.03,1.03,
1.08,1.1,1.1,1.06,1,.97,1.03,.9,1.03,1.05,
.78,.8,.84,.83,.84,.86,.88,.95,.84,.97,
1.5,1.5,1.5,1.5,1.5,1.5,1.5,1.5,1.5,1.5];

const xTicks=[-20,-10,0,10];
const yTicks=[-10,-5,0,5,10];
const barTicks=[0.6,0.8,1.0,1.2,1.4];
const panelTitles=['Data First Cadence','Data Last Cadence','Model First Cadence','Model Last Cadence'];
const barLabel='Normalized Flux';

[fluxDataFirst,fluxDataLast,fluxModelFirst,fluxModelLast,dy].forEach((a,i)=>{if(a.length!==dx.length)console.error('length mismatch',i,a.length,dx.length);});

const FONT='"Liberation Sans", Arial, sans-serif';
const TXT='#262626', SPINE='#333333';
const stops=[[59,76,192],[98,130,234],[141,176,254],[192,212,245],[221,221,221],[245,196,173],[244,152,122],[222,96,77],[180,4,38]];
function cmap(v){
  let t=Math.max(0,Math.min(1,v-0.5))*8, i=Math.min(7,Math.floor(t)), f=t-i;
  const a=stops[i],b=stops[i+1];
  return 'rgb('+a.map((c,k)=>Math.round(c+(b[k]-c)*f)).join(',')+')';
}
const frame={id:'frame',afterDraw(c){const g=c.ctx,a=c.chartArea;g.save();g.strokeStyle=SPINE;g.lineWidth=2;g.strokeRect(a.left,a.top,a.right-a.left,a.bottom-a.top);g.restore();}};
function mk(left,top,w,h){const cv=document.createElement('canvas');cv.width=w;cv.height=h;cv.style.cssText='left:'+left+'px;top:'+top+'px;width:'+w+'px;height:'+h+'px';document.body.appendChild(cv);return cv;}
function panel(plotLeft,plotTop,flux,title,showX,showY){
  const m=70, bottom=showX?44:30;
  const cv=mk(plotLeft-m,plotTop-30,228+2*m,30+228+bottom);
  new Chart(cv,{type:'scatter',
    data:{datasets:[{data:dx.map((x,i)=>({x:x,y:dy[i]})),pointRadius:2.5,pointHoverRadius:2.5,borderWidth:0,pointBorderWidth:0,
      pointBackgroundColor:flux.map(cmap)}]},
    options:{responsive:false,animation:false,events:[],devicePixelRatio:1,
      layout:{padding:{left:0,right:m,top:0,bottom:0}},
      plugins:{legend:{display:false},tooltip:{enabled:false},
        title:{display:true,fullSize:false,text:title,color:TXT,font:{family:FONT,size:19.2,weight:'normal',lineHeight:1},padding:{top:6,bottom:4.8}}},
      scales:{
        x:{type:'linear',min:-21.1,max:13.3,grid:{display:false,drawTicks:false},border:{display:false},
          afterBuildTicks(s){s.ticks=xTicks.map(v=>({value:v}));},
          afterFit(s){s.height=bottom;s.paddingLeft=0;s.paddingRight=0;},
          ticks:{color:TXT,font:{family:FONT,size:14.5},padding:4,maxRotation:0,autoSkip:false,callback:v=>String(v).replace('-','\u2212')},
          title:{display:showX,text:'\u03b4x',color:TXT,font:{family:FONT,size:16,style:'italic'},padding:{top:0,bottom:3}}},
        y:{type:'linear',min:-10.2,max:15.15,grid:{display:false,drawTicks:false},border:{display:false},
          afterBuildTicks(s){s.ticks=yTicks.map(v=>({value:v}));},
          afterFit(s){s.width=m;s.paddingTop=0;s.paddingBottom=0;},
          ticks:{color:TXT,font:{family:FONT,size:14.5},padding:7,autoSkip:false,callback:v=>String(v).replace('-','\u2212')},
          title:{display:showY,text:'\u03b4y',color:TXT,font:{family:FONT,size:16,style:'italic'},padding:{top:11,bottom:0}}}
      }},
    plugins:[frame]});
}
panel(72,23,fluxDataFirst,panelTitles[0],false,true);
panel(347,23,fluxDataLast,panelTitles[1],false,false);
panel(72,320,fluxModelFirst,panelTitles[2],true,true);
panel(347,320,fluxModelLast,panelTitles[3],true,false);

const barCanvas=mk(590,98,113,376);
new Chart(barCanvas,{type:'bar',
  data:{labels:[''],datasets:[{data:[[0.5,1.5]],barPercentage:1,categoryPercentage:1,borderWidth:0,
    backgroundColor(ctx){const a=ctx.chart.chartArea;if(!a)return '#888';const g=ctx.chart.ctx.createLinearGradient(0,a.bottom,0,a.top);stops.forEach((c,i)=>g.addColorStop(i/8,'rgb('+c.join(',')+')'));return g;}}]},
  options:{responsive:false,animation:false,events:[],devicePixelRatio:1,
    layout:{padding:{left:15,right:0,top:5,bottom:5}},
    plugins:{legend:{display:false},tooltip:{enabled:false}},
    scales:{
      x:{display:false},
      y:{position:'right',min:0.5,max:1.5,grid:{display:false,drawTicks:false},border:{display:false},
        afterBuildTicks(s){s.ticks=barTicks.map(v=>({value:v}));},
        afterFit(s){s.width=77;s.paddingTop=0;s.paddingBottom=0;},
        ticks:{color:TXT,font:{family:FONT,size:14.5},padding:7,autoSkip:false,callback:v=>v.toFixed(1)}}
    }},
  plugins:[frame,{id:'barLabel',afterDraw(c){const g=c.ctx;g.save();g.translate(75,187);g.rotate(-Math.PI/2);g.fillStyle=TXT;g.font='16px '+FONT;g.textAlign='center';g.textBaseline='middle';g.fillText(barLabel,0,0);g.restore();}}]});
</script>
</body></html>
